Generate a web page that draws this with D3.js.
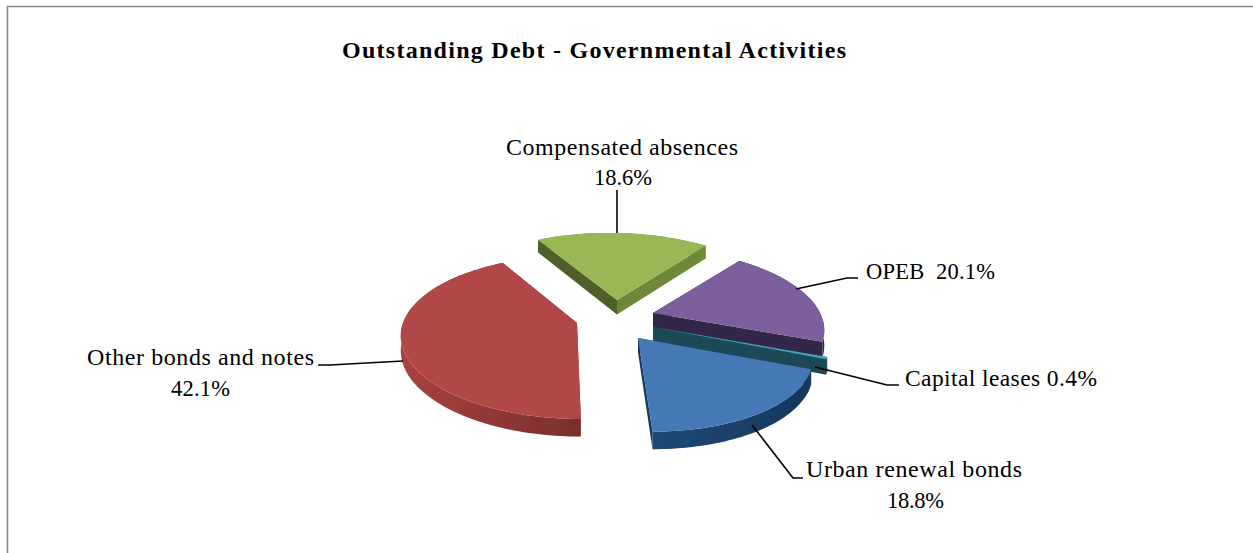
<!DOCTYPE html>
<html><head><meta charset="utf-8">
<script src="https://cdn.jsdelivr.net/npm/d3@7/dist/d3.min.js"></script>
<style>html,body{margin:0;padding:0;background:#fff}svg{display:block}text{font-family:"Liberation Serif","Times New Roman",serif;fill:#000}</style>
</head><body><div id="c"></div>
<script>
const categories=["Other bonds and notes","Compensated absences","OPEB","Capital leases","Urban renewal bonds"];
const values=[42.1,18.6,20.1,0.4,18.8];
const titleText="Outstanding Debt - Governmental Activities";
const topColors=["#B14746","#98B855","#7B5F9C","#45A5BE","#4579B6"];
const wallLeft=["#A84240","#6F8A3A","#33264A","#1C4A56","#1F4A75"];
const wallRight=["#7A2E2E","#6F8A3A","#33264A","#1C4A56","#17375C"];
const cutWallA=["#7A2E2E","#4F5F2A","#33264A","#1C4A56","#17375C"];
const cutWallB=["#7A2E2E","#6C8838","#33264A","#1C4A56","#17375C"];
// exploded position of each slice's apex, size and small perspective skew
const apexX=[577,617,653,653,638];
const apexY=[323,300,313,327,338];
const shear=[0.04,0.12,0.1,0.02,0.155];
const scaleR=[1,1,0.96,1,0.975];

const W=1253,H=553,R=174,Ry=79,K=0.177,D=14.5;
const svg=d3.select("#c").append("svg").attr("width",W).attr("height",H);
svg.append("path").attr("d",`M7.5 ${H}V6.5H${W}`).attr("fill","none").attr("stroke","#868686").attr("stroke-width",1.6);
const defs=svg.append("defs");
defs.append("filter").attr("id","soft").append("feGaussianBlur").attr("stdDeviation",0.45);
categories.forEach((c,i)=>{
  const gr=defs.append("linearGradient").attr("id","w"+i);
  gr.append("stop").attr("offset",0).attr("stop-color",wallLeft[i]);
  gr.append("stop").attr("offset",1).attr("stop-color",wallRight[i]);
});

const pie=d3.pie().sort(null).startAngle(Math.PI).endAngle(3*Math.PI);
const slices=pie(values);
function proj(i,a,r,dz){
  const u=Math.sin(a)*r,v=Math.cos(a)*r,s=1/(1+K*v);
  const sy=-Ry*scaleR[i]*v*s, sx=R*scaleR[i]*u*s+shear[i]*sy;
  return [apexX[i]+sx,apexY[i]+sy+(dz?D*s:0)];
}
const line=d3.line();
const g=svg.append("g").attr("filter","url(#soft)");
slices.forEach((d,i)=>{
  const n=Math.max(4,Math.ceil((d.endAngle-d.startAngle)*40));
  const ang=d3.scaleLinear().domain([0,n]).range([d.startAngle,d.endAngle]);
  const arcT=d3.range(n+1).map(k=>proj(i,ang(k),1,false));
  const arcB=d3.range(n+1).map(k=>proj(i,ang(k),1,true));
  const aT=proj(i,0,0,false),aB=proj(i,0,0,true);
  g.append("path").attr("d",line([aT,arcT[n],arcB[n],aB])+"Z").attr("fill",cutWallB[i]);
  g.append("path").attr("d",line(arcT.concat(arcB.slice().reverse()))+"Z").attr("fill",`url(#w${i})`);
  g.append("path").attr("d",line([aT,arcT[0],arcB[0],aB])+"Z").attr("fill",cutWallA[i]);
  g.append("path").attr("d",line([aT].concat(arcT))+"Z").attr("fill",topColors[i]);
});
// leaders
const leaders=[
 [[403,361],[330,365],[318,365]],
 [[617,233],[617,190]],
 [[796,289],[847,278],[858,278]],
 [[815,367],[887,385],[899,385]],
 [[752,425],[793,478],[803,478]]];
leaders.forEach(p=>svg.append("path").attr("d",line(p)).attr("fill","none").attr("stroke","#000").attr("stroke-width",1.6));
// text: [string, left, baseline, width, size]
svg.append("text").attr("x",342).attr("y",58).attr("font-size",24).attr("font-weight","bold").attr("textLength",504).attr("lengthAdjust","spacing").text(titleText);
const pct=values.map(v=>v.toFixed(1)+"%");
const labels=[
 [categories[1],506,155,232,24],[pct[1],594,185,58,22.5],
 [categories[2]+"  "+pct[2],866,279,129,22.5],
 [categories[3]+" "+pct[3],905,386,192,23.5],
 [categories[4],806,477,216,24],[pct[4],887,508,57,22.5],
 [categories[0],87,365,227,24],[pct[0],171,396,59,22.5]];
labels.forEach(l=>svg.append("text").attr("x",l[1]).attr("y",l[2]).attr("font-size",l[4]).attr("textLength",l[3]).attr("lengthAdjust","spacing").style("white-space","pre").text(l[0]));
</script></body></html>
